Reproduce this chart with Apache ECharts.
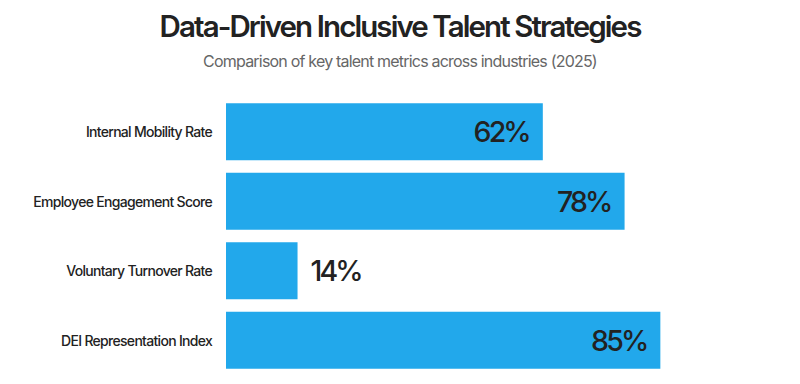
<!DOCTYPE html>
<html><head><meta charset="utf-8">
<script src="https://cdn.jsdelivr.net/npm/echarts@6/dist/echarts.min.js"></script>
<style>html,body{margin:0;padding:0;background:#fff}#c{width:800px;height:384px}
#c text{letter-spacing:-0.05em}
#c text[style*="28.5px"]{letter-spacing:-0.1em}
#c text[style*="29.5px"]{letter-spacing:-0.065em}</style>
</head><body><div id="c"></div>
<script>
const categories = ["Internal Mobility Rate","Employee Engagement Score","Voluntary Turnover Rate","DEI Representation Index"];
const values = [62, 78, 14, 85];
const insideThreshold = 30;

const chart = echarts.init(document.getElementById('c'), null, { renderer: 'svg' });
chart.setOption({
  backgroundColor: '#fff',
  title: {
    text: 'Data-Driven Inclusive Talent Strategies',
    subtext: 'Comparison of key talent metrics across industries (2025)',
    left: 'center', top: 6, itemGap: 12,
    textStyle: { fontFamily: 'Inter', fontWeight: 600, fontSize: 29.5, color: '#222' },
    subtextStyle: { fontFamily: 'Inter', fontSize: 16, color: '#666' }
  },
  grid: { left: 226, right: 63, top: 97, bottom: 9, containLabel: false },
  xAxis: { type: 'value', min: 0, max: 100, show: false },
  yAxis: {
    type: 'category', data: categories, inverse: true,
    axisLine: { show: false }, axisTick: { show: false },
    axisLabel: { margin: 14, fontFamily: 'Inter', fontWeight: 500, fontSize: 14, color: '#222' }
  },
  series: [{
    type: 'bar',
    data: values.map(v => ({
      value: v,
      label: v < insideThreshold ? { position: 'right', distance: 13 } : { position: 'insideRight', distance: 14 }
    })),
    barCategoryGap: '18%',
    itemStyle: { color: '#22a8eb' },
    label: { show: true, formatter: '{c}%', fontFamily: 'Inter', fontWeight: 500, fontSize: 28.5, color: '#222' }
  }]
});
</script></body></html>
